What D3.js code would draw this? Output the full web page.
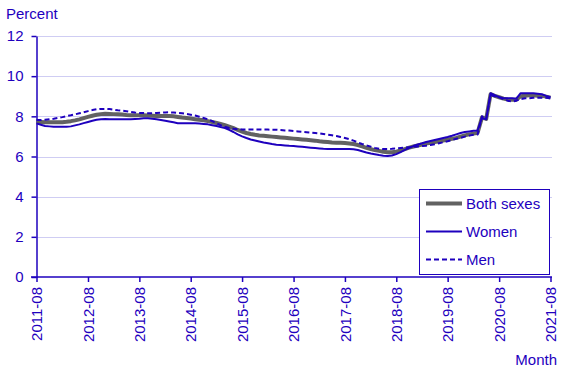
<!DOCTYPE html>
<html>
<head>
<meta charset="utf-8">
<script src="https://cdn.jsdelivr.net/npm/d3@7"></script>
<style>
  body { margin: 0; background: #fff; }
  svg text { font-family: Arial, "Liberation Sans", sans-serif; }
</style>
</head>
<body>
<svg id="chart" width="580" height="372"></svg>
<script>
// monthly, 2011-08 .. 2021-08
var startMonth = "2011-08";
var seriesNames = ["Both sexes", "Women", "Men"];

var bothSexes = [
  7.73, 7.72, 7.71, 7.70, 7.70, 7.70, 7.71, 7.73, 7.76, 7.80, 7.85, 7.91,
  7.97, 8.03, 8.08, 8.11, 8.13, 8.12, 8.11, 8.10, 8.09, 8.07, 8.06, 8.05,
  8.05, 8.05, 8.04, 8.03, 8.02, 8.02, 8.02, 8.02, 8.00, 7.97, 7.94, 7.92,
  7.89, 7.86, 7.83, 7.80, 7.76, 7.72, 7.67, 7.62, 7.56, 7.49, 7.41, 7.32,
  7.24, 7.17, 7.12, 7.08, 7.05, 7.03, 7.01, 6.99, 6.97, 6.95, 6.93, 6.91,
  6.89, 6.87, 6.85, 6.83, 6.81, 6.79, 6.76, 6.74, 6.72, 6.70, 6.69, 6.68,
  6.67, 6.65, 6.62, 6.57, 6.50, 6.43, 6.37, 6.32, 6.28, 6.24, 6.21, 6.21,
  6.24, 6.30, 6.37, 6.44, 6.50, 6.55, 6.60, 6.64, 6.68, 6.72, 6.76, 6.80,
  6.84, 6.88, 6.93, 6.99, 7.05, 7.10, 7.14, 7.18, 7.95, 7.87, 9.10, 9.02,
  8.95, 8.88, 8.84, 8.82, 8.83, 9.00, 9.03, 9.05, 9.05, 9.03, 9.02, 8.98,
  8.93
];

var women = [
  7.65, 7.58, 7.52, 7.50, 7.48, 7.48, 7.48, 7.48, 7.50, 7.55, 7.60, 7.66,
  7.72, 7.78, 7.83, 7.86, 7.87, 7.85, 7.85, 7.85, 7.85, 7.85, 7.86, 7.87,
  7.88, 7.90, 7.90, 7.88, 7.85, 7.82, 7.78, 7.74, 7.70, 7.66, 7.65, 7.65,
  7.65, 7.65, 7.64, 7.62, 7.60, 7.56, 7.52, 7.47, 7.42, 7.33, 7.22, 7.10,
  7.00, 6.92, 6.85, 6.80, 6.75, 6.70, 6.66, 6.62, 6.59, 6.57, 6.55, 6.53,
  6.52, 6.50, 6.48, 6.46, 6.44, 6.42, 6.40, 6.38, 6.37, 6.37, 6.37, 6.37,
  6.37, 6.37, 6.36, 6.32, 6.26, 6.20, 6.15, 6.11, 6.07, 6.04, 6.03, 6.05,
  6.12, 6.22, 6.33, 6.43, 6.52, 6.60, 6.66, 6.72, 6.77, 6.82, 6.87, 6.92,
  6.97, 7.03, 7.10, 7.17, 7.22, 7.25, 7.28, 7.30, 7.92, 7.85, 9.15, 9.05,
  8.95, 8.90, 8.90, 8.90, 8.88, 9.15, 9.15, 9.15, 9.15, 9.13, 9.10, 9.02,
  8.95
];

var men = [
  7.82, 7.82, 7.83, 7.85, 7.88, 7.92, 7.96, 8.01, 8.05, 8.10, 8.15, 8.20,
  8.26, 8.31, 8.35, 8.37, 8.37, 8.36, 8.33, 8.30, 8.28, 8.25, 8.22, 8.19,
  8.17, 8.16, 8.15, 8.16, 8.17, 8.18, 8.19, 8.20, 8.19, 8.17, 8.15, 8.12,
  8.08, 8.04, 7.98, 7.92, 7.85, 7.76, 7.65, 7.56, 7.48, 7.42, 7.38, 7.36,
  7.35, 7.35, 7.35, 7.35, 7.35, 7.34, 7.34, 7.33, 7.33, 7.32, 7.30, 7.29,
  7.27, 7.25, 7.23, 7.21, 7.19, 7.17, 7.15, 7.12, 7.09, 7.06, 7.02, 6.97,
  6.92, 6.86, 6.79, 6.70, 6.62, 6.55, 6.49, 6.43, 6.39, 6.37, 6.37, 6.38,
  6.40, 6.42, 6.44, 6.46, 6.48, 6.50, 6.52, 6.54, 6.57, 6.61, 6.66, 6.71,
  6.76, 6.82, 6.88, 6.93, 6.99, 7.04, 7.08, 7.10, 8.00, 7.90, 9.05, 9.00,
  8.95, 8.85, 8.78, 8.73, 8.78, 8.86, 8.90, 8.90, 8.92, 8.93, 8.93, 8.92,
  8.90
];

var yTicks = [0, 2, 4, 6, 8, 10, 12];
var xTickLabels = ["2011-08", "2012-08", "2013-08", "2014-08", "2015-08", "2016-08",
                   "2017-08", "2018-08", "2019-08", "2020-08", "2021-08"];

var textColor = "#1e00be";
var colors = ["#626262", "#1e00be", "#1e00be"];
var widths = [4, 2, 2];
var dashes = [null, null, "5,3"];

var svg = d3.select("#chart");
var margin = {left: 36.5, right: 30, top: 36, bottom: 95};
var W = 580, H = 372;

var parse = d3.timeParse("%Y-%m");
var fmt = d3.timeFormat("%Y-%m");
var t0 = parse(startMonth);
var months = d3.range(bothSexes.length).map(i => d3.timeMonth.offset(t0, i));

var x = d3.scaleTime()
  .domain([months[0], months[months.length - 1]])
  .range([margin.left, 550.5]);
var y = d3.scaleLinear()
  .domain([0, 12])
  .range([277, margin.top]);

// grid
svg.append("g")
  .selectAll("line")
  .data(yTicks.filter(d => d > 0))
  .enter().append("line")
  .attr("x1", margin.left).attr("x2", 552)
  .attr("y1", d => Math.round(y(d)) + 0.5).attr("y2", d => Math.round(y(d)) + 0.5)
  .attr("stroke", "#cfcdf3").attr("stroke-width", 1);

// y axis
var yAxis = svg.append("g")
  .attr("transform", "translate(" + margin.left + ",0)")
  .call(d3.axisLeft(y).tickValues(yTicks).tickSize(5).tickPadding(8).tickSizeOuter(0));
yAxis.select(".domain").attr("stroke", textColor).attr("stroke-width", 1.5);
yAxis.selectAll(".tick line").attr("stroke", textColor).attr("stroke-width", 1.5);
yAxis.selectAll(".tick text").attr("fill", textColor).style("font-size", "15px");

// x axis
var xAxis = svg.append("g")
  .attr("transform", "translate(0,277)")
  .call(d3.axisBottom(x).tickValues(xTickLabels.map(parse)).tickFormat(fmt).tickSize(5).tickSizeOuter(0));
xAxis.select(".domain").attr("stroke", textColor).attr("stroke-width", 1.5)
  .attr("d", "M31,0H552");
xAxis.selectAll(".tick line").attr("stroke", textColor).attr("stroke-width", 1.5);
xAxis.selectAll(".tick text")
  .attr("fill", textColor)
  .style("font-size", "15px")
  .attr("text-anchor", "end")
  .attr("transform", "rotate(-90)")
  .attr("x", -10).attr("y", 0).attr("dy", "0.35em");

// lines
var allSeries = [bothSexes, women, men];
var line = d3.line()
  .x((d, i) => x(months[i]))
  .y(d => y(d));

svg.append("g")
  .selectAll("path")
  .data(allSeries)
  .enter().append("path")
  .attr("fill", "none")
  .attr("stroke", (d, i) => colors[i])
  .attr("stroke-width", (d, i) => widths[i])
  .attr("stroke-dasharray", (d, i) => dashes[i])
  .attr("stroke-linejoin", "round")
  .attr("d", line);

// titles
svg.append("text")
  .attr("x", 6).attr("y", 19)
  .attr("fill", textColor).style("font-size", "15px")
  .text("Percent");
svg.append("text")
  .attr("x", 557).attr("y", 365)
  .attr("text-anchor", "end")
  .attr("fill", textColor).style("font-size", "15px")
  .text("Month");

// legend
var legend = svg.append("g");
legend.append("rect")
  .attr("x", 419.5).attr("y", 189.5).attr("width", 130).attr("height", 85)
  .attr("fill", "#fff").attr("stroke", textColor).attr("stroke-width", 1);
var items = legend.selectAll(".item")
  .data(seriesNames)
  .enter().append("g")
  .attr("class", "item")
  .attr("transform", (d, i) => "translate(0," + [203.5, 231.5, 259.5][i] + ")");
items.append("line")
  .attr("x1", 426).attr("x2", 462)
  .attr("stroke", (d, i) => colors[i])
  .attr("stroke-width", (d, i) => widths[i])
  .attr("stroke-dasharray", (d, i) => dashes[i]);
items.append("text")
  .attr("x", 466).attr("dy", "0.35em")
  .attr("fill", textColor).style("font-size", "15px")
  .text(d => d);
</script>
</body>
</html>
